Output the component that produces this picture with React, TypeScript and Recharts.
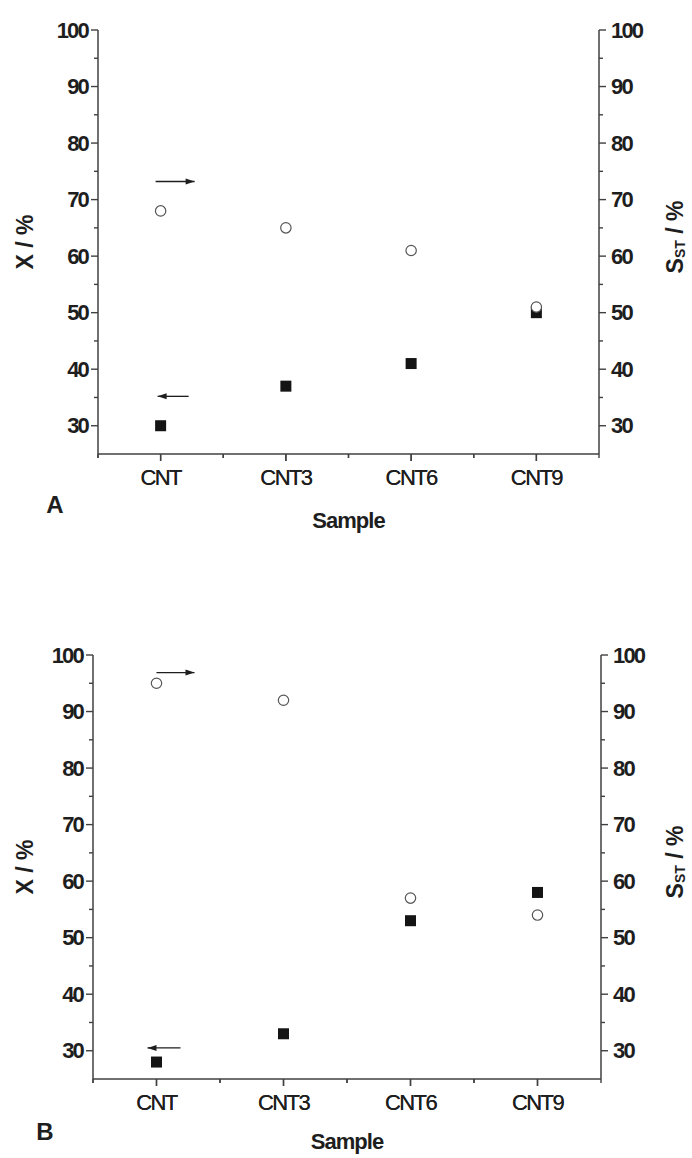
import React from 'react'
import { ScatterChart, Scatter, XAxis, YAxis, ReferenceDot } from 'recharts'

// categories and axis ticks
const samples = ['CNT', 'CNT3', 'CNT6', 'CNT9']
const yTicks = [30, 35, 40, 45, 50, 55, 60, 65, 70, 75, 80, 85, 90, 95, 100]

// panel A: conversion X (left axis) and selectivity S_ST (right axis)
const convA = [30, 37, 41, 50]
const selA = [68, 65, 61, 51]
// panel B
const convB = [28, 33, 53, 58]
const selB = [95, 92, 57, 54]

// arrow annotations (y value on the axis each series belongs to)
const arrowsA = { right: 73.2, left: 35.2 }
const arrowsB = { right: 96.9, left: 30.5 }

const ink = '#1e1e1e'
const axisColor = '#404040'
const font = "'Liberation Sans', Arial, sans-serif"

const buildRows = (conv: number[], sel: number[]) =>
  samples.map((s, i) => ({ sample: s, conv: conv[i], sel: sel[i] }))

const tickText = {
  fontFamily: font,
  fontSize: 22,
  fontWeight: 700,
  letterSpacing: -1.8,
  fill: ink,
}

const LeftTick = (props: any) => {
  const { x, y, payload } = props
  const major = payload.value % 10 === 0
  return (
    <g>
      <line x1={x - (major ? 7 : 4)} x2={x} y1={y} y2={y} stroke={axisColor} strokeWidth={1.4} />
      {major && (
        <text x={x - 10} y={y} textAnchor="end" dominantBaseline="central" {...tickText}>
          {payload.value}
        </text>
      )}
    </g>
  )
}

const RightTick = (props: any) => {
  const { x, y, payload } = props
  const major = payload.value % 10 === 0
  return (
    <g>
      <line x1={x} x2={x + (major ? 7 : 4)} y1={y} y2={y} stroke={axisColor} strokeWidth={1.4} />
      {major && (
        <text x={x + 12} y={y} textAnchor="start" dominantBaseline="central" {...tickText}>
          {payload.value}
        </text>
      )}
    </g>
  )
}

const makeBottomTick = (band: number) => (props: any) => {
  const { x, y, payload, index } = props
  return (
    <g>
      <line x1={x} x2={x} y1={y} y2={y + 7} stroke={axisColor} strokeWidth={1.4} />
      <line x1={x - band / 2} x2={x - band / 2} y1={y} y2={y + 4} stroke={axisColor} strokeWidth={1.4} />
      {index === samples.length - 1 && (
        <line x1={x + band / 2} x2={x + band / 2} y1={y} y2={y + 4} stroke={axisColor} strokeWidth={1.4} />
      )}
      <text
        x={x}
        y={y + 23}
        textAnchor="middle"
        dominantBaseline="central"
        fontFamily={font}
        fontSize={22}
        letterSpacing={-1.6}
        fill={ink}
      >
        {payload.value}
      </text>
    </g>
  )
}

const Square = (p: any) => (
  <rect x={p.cx - 5.5} y={p.cy - 5.5} width={11} height={11} fill="#141414" />
)

const Ring = (p: any) => (
  <circle cx={p.cx} cy={p.cy} r={5.2} fill="#fff" stroke="#555" strokeWidth={1.2} />
)

const arrowShape = (dir: 'left' | 'right', from: number, to: number) => (p: any) => {
  const x1 = p.cx + from
  const x2 = p.cx + to
  const y = p.cy
  const head = dir === 'right' ? x2 : x1
  const back = dir === 'right' ? head - 9 : head + 9
  return (
    <g>
      <line x1={x1} x2={x2} y1={y} y2={y} stroke={ink} strokeWidth={1.3} />
      <polygon points={`${head},${y} ${back},${y - 3} ${back},${y + 3}`} fill={ink} />
    </g>
  )
}

type PanelProps = {
  conv: number[]
  sel: number[]
  arrows: { right: number; left: number }
  letter: string
  height: number
  top: number
  leftW: number
  rightW: number
  bottomH: number
  rightArrow: [number, number]
  leftArrow: [number, number]
  sampleDy: number
  letterX: number
  letterDy: number
}

const W = 692

function Panel(p: PanelProps) {
  const rows = buildRows(p.conv, p.sel)
  const band = (W - p.leftW - p.rightW) / samples.length

  const leftTitle = (props: any) => {
    const vb = props.viewBox
    const cx = vb.x + 25
    const cy = vb.y + vb.height / 2
    return (
      <text
        x={cx}
        y={cy}
        transform={`rotate(-90 ${cx} ${cy})`}
        textAnchor="middle"
        dominantBaseline="central"
        fontFamily={font}
        fontSize={23}
        fontWeight={700}
        fill={ink}
      >
        X / %
      </text>
    )
  }

  const rightTitle = (props: any) => {
    const vb = props.viewBox
    const cx = vb.x + vb.width - 17
    const cy = vb.y + vb.height / 2 - 5
    return (
      <text
        x={cx}
        y={cy}
        transform={`rotate(-90 ${cx} ${cy})`}
        textAnchor="middle"
        dominantBaseline="central"
        fontFamily={font}
        fontSize={23}
        fontWeight={700}
        fill={ink}
      >
        S
        <tspan fontSize={14} dy={5}>ST</tspan>
        <tspan dy={-5}> / %</tspan>
      </text>
    )
  }

  const bottomTitle = (props: any) => {
    const vb = props.viewBox
    return (
      <g>
        <text
          x={vb.x + vb.width / 2}
          y={vb.y + p.sampleDy}
          textAnchor="middle"
          dominantBaseline="central"
          fontFamily={font}
          fontSize={22}
          fontWeight={700}
          letterSpacing={-1}
          fill={ink}
        >
          Sample
        </text>
        <text
          x={p.letterX}
          y={vb.y + p.letterDy}
          textAnchor="middle"
          dominantBaseline="central"
          fontFamily={font}
          fontSize={24}
          fontWeight={700}
          fill={ink}
        >
          {p.letter}
        </text>
      </g>
    )
  }

  return (
    <div style={{ position: 'absolute', left: 0, top: p.top }}>
      <ScatterChart
        width={W}
        height={p.height}
        margin={{ top: p.height - p.bottomH - 424, right: 0, bottom: 0, left: 0 }}
      >
        <XAxis
          dataKey="sample"
          type="category"
          scale="band"
          allowDuplicatedCategory={false}
          height={p.bottomH}
          axisLine={{ stroke: axisColor, strokeWidth: 1.5 }}
          tickLine={false}
          tickSize={0}
          tickMargin={0}
          interval={0}
          tick={makeBottomTick(band)}
          label={{ content: bottomTitle }}
        />
        <YAxis
          yAxisId="left"
          dataKey="conv"
          type="number"
          orientation="left"
          domain={[25, 100]}
          ticks={yTicks}
          interval={0}
          width={p.leftW}
          axisLine={{ stroke: axisColor, strokeWidth: 1.5 }}
          tickLine={false}
          tickSize={0}
          tickMargin={0}
          tick={LeftTick}
          label={{ content: leftTitle }}
        />
        <YAxis
          yAxisId="right"
          dataKey="sel"
          type="number"
          orientation="right"
          domain={[25, 100]}
          ticks={yTicks}
          interval={0}
          width={p.rightW}
          axisLine={{ stroke: axisColor, strokeWidth: 1.5 }}
          tickLine={false}
          tickSize={0}
          tickMargin={0}
          tick={RightTick}
          label={{ content: rightTitle }}
        />
        <Scatter data={rows} yAxisId="left" shape={Square} isAnimationActive={false} />
        <Scatter data={rows} yAxisId="right" shape={Ring} isAnimationActive={false} />
        <ReferenceDot
          x="CNT"
          y={p.arrows.right}
          yAxisId="right"
          ifOverflow="visible"
          shape={arrowShape('right', p.rightArrow[0], p.rightArrow[1])}
        />
        <ReferenceDot
          x="CNT"
          y={p.arrows.left}
          yAxisId="left"
          ifOverflow="visible"
          shape={arrowShape('left', p.leftArrow[0], p.leftArrow[1])}
        />
      </ScatterChart>
    </div>
  )
}

export default function App() {
  return (
    <div style={{ position: 'absolute', left: 0, top: 0, width: W, height: 1158, background: '#fff' }}>
      <Panel
        conv={convA}
        sel={selA}
        arrows={arrowsA}
        letter="A"
        height={560}
        top={0}
        leftW={98}
        rightW={93}
        bottomH={106}
        rightArrow={[-5, 34]}
        leftArrow={[-3, 28]}
        sampleDy={66}
        letterX={55}
        letterDy={50}
      />
      <Panel
        conv={convB}
        sel={selB}
        arrows={arrowsB}
        letter="B"
        height={558}
        top={600}
        leftW={93}
        rightW={91}
        bottomH={79}
        rightArrow={[0, 38]}
        leftArrow={[-9, 24]}
        sampleDy={62}
        letterX={45}
        letterDy={52}
      />
    </div>
  )
}
